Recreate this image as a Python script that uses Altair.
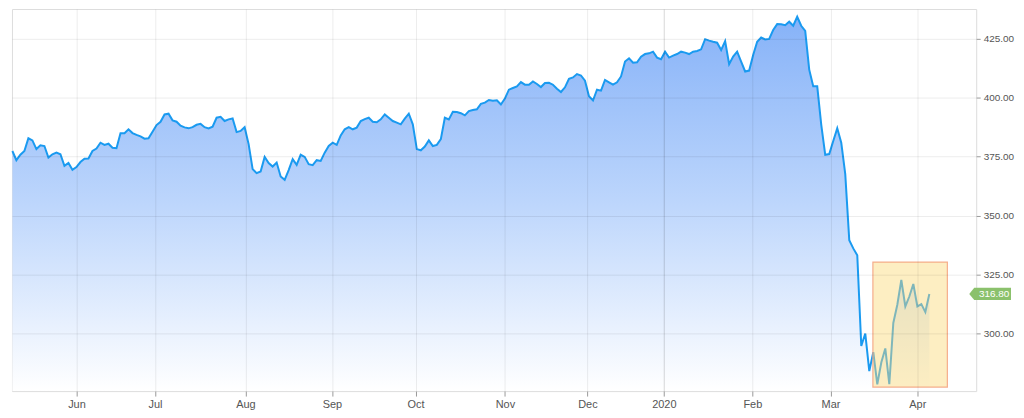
import altair as alt
import pandas as pd

# closing values, one per trading day (mid-May 2019 .. early Apr 2020)
values = [
    377.4, 373.5, 375.8, 377.4, 382.8, 381.9, 378.2, 379.8, 379.5, 374.6, 376.0, 376.7, 376.0, 371.1, 372.3, 369.4,
    370.6, 372.7, 374.1, 374.2, 377.4, 378.4, 380.9, 380.0, 380.5, 378.8, 378.6, 384.9, 384.9, 386.6, 385.0, 384.2,
    383.6, 382.6, 382.8, 385.6, 388.4, 389.8, 392.9, 393.2, 390.4, 389.8, 388.1, 387.4, 387.0, 387.5, 388.5, 388.9,
    387.5, 387.0, 387.7, 391.5, 391.9, 390.1, 390.8, 391.2, 385.4, 385.9, 387.5, 380.3, 369.7, 368.0, 368.7, 374.9,
    372.3, 370.8, 372.5, 366.6, 365.2, 369.3, 373.9, 371.5, 375.8, 374.9, 371.8, 371.4, 373.5, 373.2, 376.7, 379.5,
    380.9, 380.0, 384.0, 386.6, 387.5, 386.6, 387.3, 390.1, 390.9, 391.5, 389.8, 389.6, 390.8, 392.9, 391.5, 390.1,
    389.4, 388.7, 391.1, 393.2, 388.7, 378.2, 377.7, 379.3, 381.9, 379.5, 380.0, 382.4, 391.5, 390.8, 394.0, 393.9,
    393.4, 392.5, 394.3, 394.8, 395.1, 397.4, 397.9, 399.0, 398.7, 398.9, 397.1, 399.6, 403.4, 404.1, 404.8, 406.6,
    405.5, 405.5, 406.9, 405.8, 404.5, 406.2, 406.3, 405.5, 403.8, 402.4, 404.4, 408.0, 408.6, 410.0, 409.4, 407.2,
    400.6, 398.8, 403.4, 403.0, 407.5, 406.5, 405.5, 406.5, 409.0, 415.3, 416.7, 414.8, 415.0, 417.4, 418.5, 418.8,
    419.5, 417.0, 416.3, 419.5,
    417.0, 417.8, 418.5, 419.5, 419.1, 418.5, 419.5, 419.8, 420.5, 424.8, 424.2, 423.7, 423.3, 420.2, 424.0, 414.2,
    417.4, 419.5, 415.3, 411.1, 411.5, 418.1, 423.7, 425.5, 424.7, 424.9, 428.7, 431.2, 431.1, 430.7, 432.2, 430.5,
    434.3, 430.5, 428.3, 411.9, 404.8, 404.8, 388.6, 375.8, 376.1, 381.6, 387.0, 380.9, 367.6, 339.6, 336.1, 333.2,
    294.7, 300.0, 284.1, 292.1, 278.5, 287.7, 293.7, 278.5, 304.5, 312.2, 322.7, 311.5, 315.7, 321.0, 311.5, 312.5,
    309.1, 316.8,
]

# month tick positions (trading-day index) and labels
tick_pos = [16.0, 35.6, 58.2, 79.8, 100.7, 123.0, 143.6, 162.7, 184.8, 204.3, 226.0]
tick_labels = ["Jun", "Jul", "Aug", "Sep", "Oct", "Nov", "Dec", "2020", "Feb", "Mar", "Apr"]
year_tick = 162.7
y_ticks = [300, 325, 350, 375, 400, 425]
x_domain = [-0.1, 240.7]
y_domain = [275.6, 437.6]

# highlighted region
box_x = [214.9, 233.5]
box_y = [277.3, 330.3]

last_value = values[-1]

df = pd.DataFrame({"t": list(range(len(values))), "v": values})
box_df = pd.DataFrame({"x": [box_x[0]], "x2": [box_x[1]], "y": [box_y[0]], "y2": [box_y[1]]})
tag_df = pd.DataFrame({"v": [last_value], "label": [f"{last_value:.2f}"]})

W, H = 969, 384
FONT = "Liberation Sans"

label_expr = (
    "[" + ",".join(repr(l) for l in tick_labels) + "][indexof(["
    + ",".join(str(p) for p in tick_pos) + "], datum.value)]"
)

x_scale = alt.Scale(domain=x_domain, nice=False, zero=False)
y_scale = alt.Scale(domain=y_domain, nice=False, zero=False)

x_axis = alt.Axis(
    values=tick_pos, labelExpr=label_expr, title=None, grid=True,
    gridColor="#000000",
    gridOpacity={"condition": {"test": f"datum.value == {year_tick}", "value": 0.16}, "value": 0.08},
    tickSize=5, tickColor="#999999",
    domain=False, labelColor="#555555", labelFont=FONT, labelFontSize=11,
    labelPadding=2, zindex=1,
)
y_axis = alt.Axis(
    orient="right", values=y_ticks, format=".2f", title=None, grid=True,
    gridColor="#000000", gridOpacity=0.08, tickSize=4, tickColor="#999999",
    domain=False, labelColor="#555555", labelFont=FONT, labelFontSize=10,
    labelPadding=3, zindex=1,
)

gradient = alt.Gradient(
    gradient="linear",
    stops=[
        alt.GradientStop(color="#ffffff", offset=0),
        alt.GradientStop(color="#bdd6fc", offset=0.5),
        alt.GradientStop(color="#86b2f8", offset=1),
    ],
    x1=1, x2=1, y1=1, y2=0,
)

base = alt.Chart(df)

area = base.mark_area(fill=gradient).encode(
    x=alt.X("t:Q", scale=x_scale, axis=x_axis),
    y=alt.Y("v:Q", scale=y_scale, axis=y_axis),
    y2=alt.datum(y_domain[0]),
)

line = base.mark_line(color="#1a9af0", strokeWidth=2).encode(
    x=alt.X("t:Q", scale=x_scale, axis=x_axis),
    y=alt.Y("v:Q", scale=y_scale, axis=y_axis),
)

box = alt.Chart(box_df).mark_rect(
    fill="#fbd978", fillOpacity=0.45, stroke="#f4a582", strokeWidth=1.2, strokeOpacity=0.9
).encode(
    x=alt.X("x:Q", scale=x_scale, axis=x_axis),
    x2="x2",
    y=alt.Y("y:Q", scale=y_scale, axis=y_axis),
    y2="y2",
)

tag_shape = "M-1,0L-0.76,-0.29L1,-0.29L1,0.29L-0.76,0.29Z"
tag = alt.Chart(tag_df).mark_point(
    shape=tag_shape, size=1764, filled=True, fill="#8bc16c", opacity=1, strokeWidth=0
).encode(
    x=alt.value(W + 14),
    y=alt.Y("v:Q", scale=y_scale, axis=y_axis),
)

tag_text = alt.Chart(tag_df).mark_text(
    color="white", fontSize=10, font=FONT, align="center", baseline="middle"
).encode(
    x=alt.value(W + 18),
    y=alt.Y("v:Q", scale=y_scale, axis=y_axis),
    text="label:N",
)

chart = (
    alt.layer(area, line, box, tag, tag_text)
    .properties(width=W, height=H, padding={"left": 0, "top": 0, "right": 2, "bottom": 0})
    .configure_view(stroke="#aaaaaa", strokeWidth=1)
    .configure(background="white")
)

chart.save("out.html", embed_options={"renderer": "svg", "actions": False})
